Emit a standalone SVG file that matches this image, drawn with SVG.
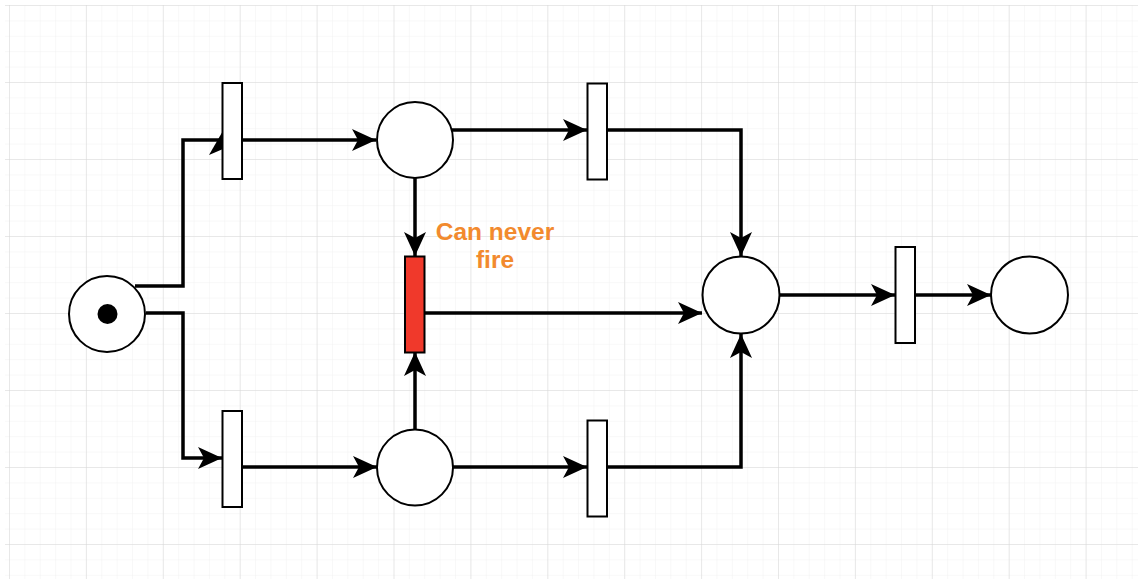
<svg xmlns="http://www.w3.org/2000/svg" width="1138" height="579" viewBox="0 0 1138 579">
  <defs>
    <pattern id="minor" patternUnits="userSpaceOnUse" x="9" y="5" width="15.38" height="15.4">
      <path d="M0,0 V15.4 M0,0 H15.38" fill="none" stroke="#f1f1f1" stroke-width="1"/>
    </pattern>
    <pattern id="major" patternUnits="userSpaceOnUse" x="9" y="5" width="76.9" height="77">
      <path d="M0,0 V77 M0,0 H76.9" fill="none" stroke="#d8d8d8" stroke-width="1"/>
    </pattern>
    <marker id="arr" markerUnits="userSpaceOnUse" markerWidth="26" markerHeight="26" viewBox="0 0 26 26" refX="24" refY="12" orient="auto">
      <path d="M0,1 L24,12 L0,23 L6,12 Z" fill="#000"/>
    </marker>
    <style>
      .edge { fill: none; stroke: #000; stroke-width: 3.5; }
      .place { fill: #fff; stroke: #000; stroke-width: 2; }
      .trans { fill: #fff; stroke: #000; stroke-width: 2; }
      .label { font-family: "Liberation Sans", Arial, sans-serif; font-weight: bold; font-size: 24.5px; fill: #F28A2E; text-anchor: middle; }
    </style>
  </defs>
  <rect x="0" y="0" width="1138" height="579" fill="#fff"/>
  <rect x="5" y="5" width="1133" height="574" fill="url(#minor)"/>
  <rect x="5" y="5" width="1133" height="574" fill="url(#major)"/>

  <g id="connectors">
    <path class="edge" d="M135,286 H183 V140 H222"/>
    <polygon points="224,129 209,155 223,149" fill="#000"/>
    <path class="edge" d="M242,140 H376" marker-end="url(#arr)"/>
    <path class="edge" d="M146,313 H183 V458 H222" marker-end="url(#arr)"/>
    <path class="edge" d="M242,467 H377" marker-end="url(#arr)"/>
    <path class="edge" d="M452,130 H587" marker-end="url(#arr)"/>
    <path class="edge" d="M607,130 H741 V256" marker-end="url(#arr)"/>
    <path class="edge" d="M415,178 V256" marker-end="url(#arr)"/>
    <path class="edge" d="M415,429 V352" marker-end="url(#arr)"/>
    <path class="edge" d="M424,313 H702" marker-end="url(#arr)"/>
    <path class="edge" d="M453,467 H587" marker-end="url(#arr)"/>
    <path class="edge" d="M607,467 H741 V334" marker-end="url(#arr)"/>
    <path class="edge" d="M780,295 H895" marker-end="url(#arr)"/>
    <path class="edge" d="M915,295 H991" marker-end="url(#arr)"/>
  </g>

  <g id="start">
    <circle class="place" cx="107" cy="314" r="38"/>
    <circle cx="107.5" cy="314" r="10" fill="#000"/>
  </g>
  <g id="t1"><rect class="trans" x="222.5" y="83" width="19.5" height="96"/></g>
  <g id="t3"><rect class="trans" x="222.5" y="411" width="19.5" height="96"/></g>
  <g id="p1"><circle class="place" cx="415" cy="140" r="38"/></g>
  <g id="p2"><circle class="place" cx="415" cy="467.5" r="38"/></g>
  <g id="t2"><rect class="trans" x="587.5" y="83.5" width="19.5" height="96"/></g>
  <g id="t4"><rect class="trans" x="587.5" y="420.5" width="19.5" height="96"/></g>
  <g id="dead">
    <rect x="405" y="256.5" width="19.5" height="96" fill="#F0392B" stroke="#000" stroke-width="2"/>
  </g>
  <g id="p3"><circle class="place" cx="741" cy="295" r="38.5"/></g>
  <g id="t5"><rect class="trans" x="895.5" y="247" width="19.5" height="96"/></g>
  <g id="p4"><circle class="place" cx="1029.5" cy="295" r="38.5"/></g>
  <g id="label">
    <text class="label" x="495" y="240">Can never</text>
    <text class="label" x="495" y="268">fire</text>
  </g>
</svg>
